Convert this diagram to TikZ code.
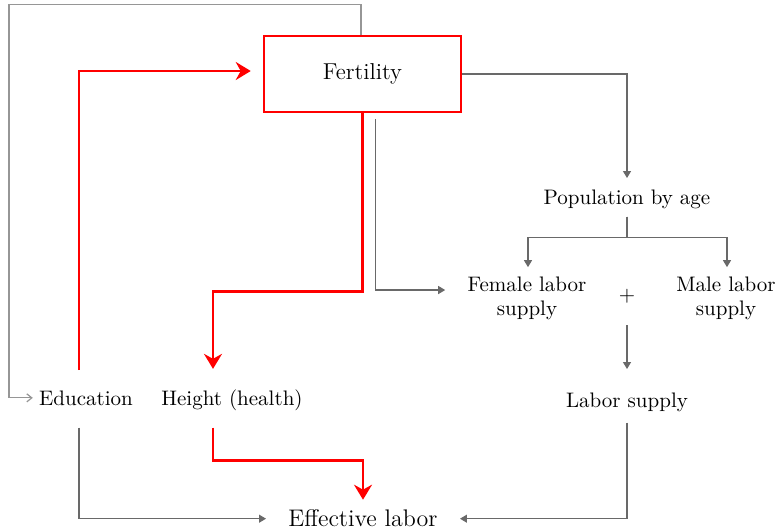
\documentclass[tikz,border=0pt]{standalone}
\usepackage{tikz}
\usetikzlibrary{arrows.meta,positioning,calc}
\usepackage{xcolor}
\definecolor{linkred}{RGB}{255,0,0}
\definecolor{linkgray}{RGB}{105,105,105}
\definecolor{loopgray}{RGB}{150,150,150}
\tikzset{
  % framed node
  fertbox/.style={rectangle, draw=linkred, line width=1.25pt, minimum width=98.5pt, minimum height=38pt,
                  font=\fontsize{11.5}{13}\selectfont},
  % plain labels
  lbl/.style={inner sep=0pt, font=\fontsize{10.5}{12}\selectfont},
  biglbl/.style={inner sep=0pt, font=\fontsize{12}{14}\selectfont},
  % gray link
  glink/.style={-{Triangle[length=3.5pt,width=4pt]}, linkgray, line width=0.6pt},
  % feedback loop
  looplink/.style={-{Straight Barb[length=2.5pt,width=4pt]}, loopgray, line width=0.6pt},
  % red link
  rlink/.style={-{Stealth[length=7.5pt,width=9pt,inset=2.5pt]}, linkred, line width=1.25pt},
}

\begin{document}
\begin{tikzpicture}[x=0.5pt,y=-0.5pt]
  \useasboundingbox (0,0) rectangle (779,531);
  \node[fertbox] (fert) at (362.5,74) {Fertility};
  \node[lbl, anchor=base] (pop) at (627,204) {Population by age};
  \node[lbl, align=center] (fem) at (527,298) {Female labor\\supply};
  \node[lbl, align=center] (male) at (726,298) {Male labor\\supply};
  \node[lbl] (plus) at (627,296) {+};
  \node[lbl, anchor=base] (lab) at (627,407) {Labor supply};
  \node[lbl, anchor=base] (edu) at (86,405) {Education};
  \node[lbl, anchor=base] (hgt) at (232,405) {Height (health)};
  \node[biglbl, anchor=base] (eff) at (363,526) {Effective labor};

  % feedback round the top
  \draw[looplink] ($(fert.north)+(-1.5,0)$) -- ++(0,-30) -- ++(-352,0) |- ($(edu.west)+(-6,0)$);
  % red paths
  \draw[rlink] ($(edu.north)+(-7,-20)$) |- ($(fert.west)+(-12,-3)$);
  \draw[rlink] (fert.south) -- ++(0,178) -| ($(hgt.north)+(-19,-20)$);
  \draw[rlink] ($(hgt.south)+(-19,17)$) -- ++(0,33) -| ($(eff.north)+(0,-9)$);
  % gray paths
  \draw[glink] ($(fert.south)+(13,6)$) |- ($(fem.west)+(-22,-8)$);
  \draw[glink] (fert.east) -| ($(pop.north)+(0,-11)$);
  \draw[glink] ($(pop.south)+(0,8)$) -- ++(0,21) -| ($(fem.north)+(1,-9)$);
  \draw[glink] ($(pop.south)+(0,8)$) -- ++(0,21) -| ($(male.north)+(1,-9)$);
  \draw[glink] ($(plus.south)+(0,22)$) -- ($(lab.north)+(0,-23)$);
  \draw[glink] ($(edu.south)+(-7,22)$) |- ($(eff.west)+(-22,1)$);
  \draw[glink] ($(lab.south)+(0,11)$) |- ($(eff.east)+(22,1)$);
\end{tikzpicture}
\end{document}
